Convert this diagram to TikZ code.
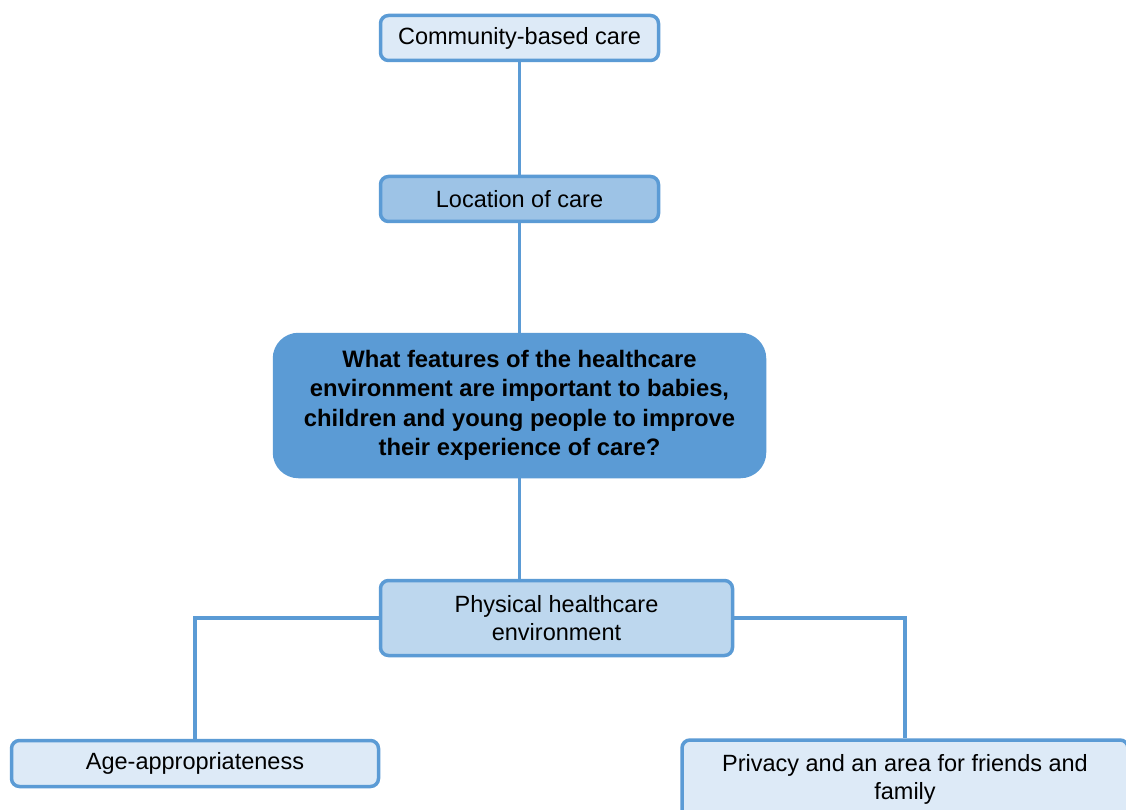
\documentclass[tikz,border=0pt]{standalone}
\usepackage{fontspec}
\setmainfont{Liberation Sans}
\definecolor{edgeblue}{HTML}{5B9BD5}
\definecolor{fillpale}{HTML}{DDEAF7}
\definecolor{fillmid}{HTML}{9DC3E6}
\definecolor{filllight}{HTML}{BDD7EE}
\definecolor{fillmain}{HTML}{5B9BD5}
\begin{document}
\begin{tikzpicture}[x=1pt,y=1pt,
  box/.style={draw=edgeblue, line width=3.5pt, rounded corners=8pt, align=center,
    inner sep=0pt, font=\fontsize{23.5}{28}\selectfont, text=black},
  conn/.style={draw=edgeblue, line width=3.5pt}]
\useasboundingbox (0,0) rectangle (1126,-810);
\clip (0,0) rectangle (1126,-810);
\fill[white] (0,0) rectangle (1126,-810);

\node[box, fill=fillpale, minimum width=278, minimum height=45] (comm) at (519.5,-38) {Community-based care};
\node[box, fill=fillmid, minimum width=278, minimum height=45] (loc) at (519.5,-199) {Location of care};
\node[box, fill=fillmain, rounded corners=24pt, minimum width=490, minimum height=142,
  font=\fontsize{23.8}{29.5}\selectfont\bfseries] (main) at (519.5,-405.5)
  {What features of the healthcare\\environment are important to babies,\\children and young people to improve\\their experience of care?};
\node[box, fill=filllight, minimum width=352, minimum height=75] (phys) at (556.5,-618) {Physical healthcare\\environment};
\node[box, fill=fillpale, minimum width=367, minimum height=46] (age) at (195,-763.5) {Age-appropriateness};
\node[box, fill=fillpale, minimum width=446, minimum height=78] (priv) at (905,-779) {Privacy and an area for friends and\\family};

\draw[conn] (comm.south) -- (loc.north);
\draw[conn] (loc.south) -- (main.north);
\draw[conn] (main.south) -- (main.south |- phys.north);
\draw[conn] (phys.west) -| (age.north);
\draw[conn] (phys.east) -| (priv.north);
\end{tikzpicture}
\end{document}
